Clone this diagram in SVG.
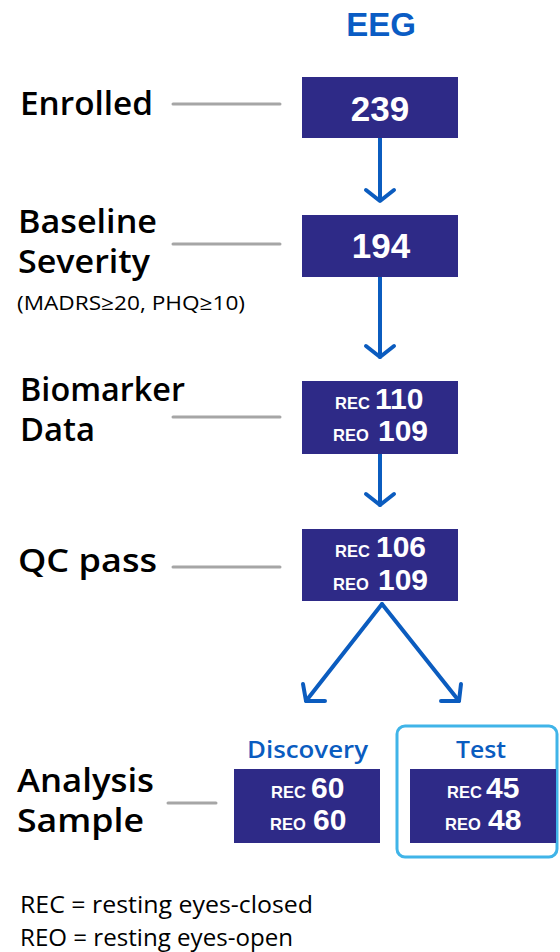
<svg xmlns="http://www.w3.org/2000/svg" width="560" height="952" viewBox="0 0 560 952">
<style>
.box{fill:#2e2a87}
.lbl{font-family:"Open Sans","Liberation Sans",Arial,sans-serif;font-weight:600;font-size:32px;fill:#000}
.sub{font-family:"Open Sans","Liberation Sans",Arial,sans-serif;font-weight:400;font-size:20px;fill:#000}
.leg{font-family:"Open Sans","Liberation Sans",Arial,sans-serif;font-weight:400;font-size:23px;fill:#000}
.big{font-family:"Liberation Sans",Arial,sans-serif;font-weight:700;font-size:35px;fill:#fff;text-anchor:middle}
.num{font-family:"Liberation Sans",Arial,sans-serif;font-weight:700;font-size:30px;fill:#fff}
.tag{font-family:"Liberation Sans",Arial,sans-serif;font-weight:700;font-size:16.5px;fill:#fff}
.head{font-family:"Liberation Sans",Arial,sans-serif;font-weight:700;fill:#0a5cc4;text-anchor:middle}
.grp{font-family:"Open Sans","Liberation Sans",Arial,sans-serif;font-weight:600;font-size:23px;fill:#0a5cc0}
.lead{stroke:#a6a6a6;stroke-width:3;stroke-linecap:round;fill:none}
.arr{stroke:#0b5cbf;stroke-width:4;stroke-linecap:round;stroke-linejoin:round;fill:none}
</style>
<text class="head" x="381" y="36" font-size="33">EEG</text>
<g id="connectors">
<line class="lead" x1="173" y1="104" x2="280" y2="104"/>
<line class="lead" x1="173" y1="244" x2="280" y2="244"/>
<line class="lead" x1="173" y1="417" x2="280" y2="417"/>
<line class="lead" x1="173" y1="567" x2="280" y2="567"/>
<line class="lead" x1="168" y1="803" x2="216" y2="803"/>
<line class="arr" x1="380" y1="138" x2="380" y2="200"/>
<polyline class="arr" points="366,190 380,201 394,190"/>
<line class="arr" x1="380" y1="277" x2="380" y2="357"/>
<polyline class="arr" points="366,346 380,357 394,346"/>
<line class="arr" x1="380" y1="454" x2="380" y2="505"/>
<polyline class="arr" points="366,494 380,505 394,494"/>
<line class="arr" x1="382" y1="604" x2="306" y2="701"/>
<polyline class="arr" points="303,684 306,701 325,701"/>
<line class="arr" x1="382" y1="604" x2="459" y2="701"/>
<polyline class="arr" points="441,701 459,701 461,684"/>
</g>
<g id="enrolled">
<text class="lbl" x="20" y="115" textLength="133" lengthAdjust="spacingAndGlyphs">Enrolled</text>
<rect class="box" x="302" y="77" width="156" height="61"/>
<text class="big" x="380" y="121">239</text>
</g>
<g id="baseline">
<text class="lbl" x="18" y="233" textLength="139" lengthAdjust="spacingAndGlyphs">Baseline</text>
<text class="lbl" x="18" y="273" textLength="132" lengthAdjust="spacingAndGlyphs">Severity</text>
<text class="sub" x="17" y="310" textLength="228" lengthAdjust="spacingAndGlyphs">(MADRS≥20, PHQ≥10)</text>
<rect class="box" x="302" y="215" width="156" height="62"/>
<text class="big" x="381" y="258">194</text>
</g>
<g id="biomarker">
<text class="lbl" x="20" y="401" textLength="165" lengthAdjust="spacingAndGlyphs">Biomarker</text>
<text class="lbl" x="20" y="441" textLength="75" lengthAdjust="spacingAndGlyphs">Data</text>
<rect class="box" x="302" y="381" width="156" height="73"/>
<text class="tag" x="335" y="409">REC</text>
<text class="num" x="375" y="409">110</text>
<text class="tag" x="333" y="441">REO</text>
<text class="num" x="378" y="441">109</text>
</g>
<g id="qc">
<text class="lbl" x="18" y="572" textLength="139" lengthAdjust="spacingAndGlyphs">QC pass</text>
<rect class="box" x="302" y="529" width="156" height="72"/>
<text class="tag" x="335" y="557">REC</text>
<text class="num" x="376" y="557">106</text>
<text class="tag" x="333" y="590">REO</text>
<text class="num" x="378" y="590">109</text>
</g>
<g id="analysis">
<text class="lbl" x="17" y="792" textLength="137" lengthAdjust="spacingAndGlyphs">Analysis</text>
<text class="lbl" x="17" y="832" textLength="127" lengthAdjust="spacingAndGlyphs">Sample</text>
</g>
<g id="discovery">
<text class="grp" x="247" y="758" textLength="121" lengthAdjust="spacingAndGlyphs">Discovery</text>
<rect class="box" x="234" y="769" width="146" height="74"/>
<text class="tag" x="271" y="798">REC</text>
<text class="num" x="311" y="798">60</text>
<text class="tag" x="270" y="830">REO</text>
<text class="num" x="313" y="830">60</text>
</g>
<g id="test">
<rect x="397" y="726" width="160" height="131" rx="8" fill="none" stroke="#40b4e8" stroke-width="3"/>
<text class="grp" x="456" y="758" textLength="50" lengthAdjust="spacingAndGlyphs">Test</text>
<rect class="box" x="410" y="769" width="146" height="74"/>
<text class="tag" x="447" y="798">REC</text>
<text class="num" x="486" y="798">45</text>
<text class="tag" x="445" y="830">REO</text>
<text class="num" x="488" y="830">48</text>
</g>
<g id="legend">
<text class="leg" x="20" y="913" textLength="293" lengthAdjust="spacingAndGlyphs">REC = resting eyes-closed</text>
<text class="leg" x="20" y="946" textLength="273" lengthAdjust="spacingAndGlyphs">REO = resting eyes-open</text>
</g>
</svg>
